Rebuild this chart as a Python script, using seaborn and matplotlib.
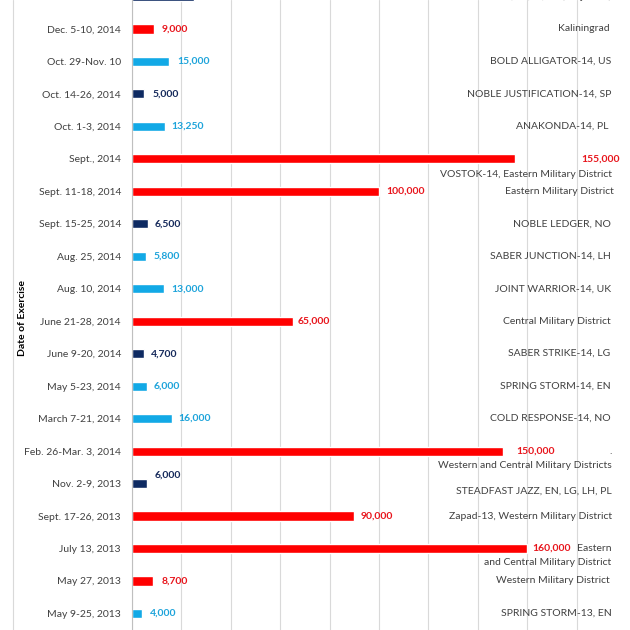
import matplotlib
matplotlib.use("Agg")
import matplotlib.pyplot as plt
import matplotlib.lines as mlines
import pandas as pd
import seaborn as sns

# ---------------- data ----------------
dates = ["Oct.-Nov., 2015", "Dec. 5-10, 2014", "Oct. 29-Nov. 10", "Oct. 14-26, 2014",
         "Oct. 1-3, 2014", "Sept., 2014", "Sept. 11-18, 2014", "Sept. 15-25, 2014",
         "Aug. 25, 2014", "Aug. 10, 2014", "June 21-28, 2014", "June 9-20, 2014",
         "May 5-23, 2014", "March 7-21, 2014", "Feb. 26-Mar. 3, 2014", "Nov. 2-9, 2013",
         "Sept. 17-26, 2013", "July 13, 2013", "May 27, 2013", "May 9-25, 2013"]
troops = [25000, 9000, 15000, 5000, 13250, 155000, 100000, 6500, 5800, 13000,
          65000, 4700, 6000, 16000, 150000, 6000, 90000, 160000, 8700, 4000]
groups = ["NATO", "Russia", "Allied", "NATO", "Allied", "Russia", "Russia", "NATO",
          "Allied", "Allied", "Russia", "NATO", "Allied", "Allied", "Russia", "NATO",
          "Russia", "Russia", "Russia", "Allied"]
exercises = ["TRIDENT JUNCTURE-15, SP, IT, PT (Projected)", "Kaliningrad",
             "BOLD ALLIGATOR-14, US", "NOBLE JUSTIFICATION-14, SP", "ANAKONDA-14, PL",
             "VOSTOK-14, Eastern Military District", "Eastern Military District",
             "NOBLE LEDGER, NO", "SABER JUNCTION-14, LH", "JOINT WARRIOR-14, UK",
             "Central Military District", "SABER STRIKE-14, LG", "SPRING STORM-14, EN",
             "COLD RESPONSE-14, NO", ".\nWestern and Central Military Districts",
             "STEADFAST JAZZ, EN, LG, LH, PL", "Zapad-13, Western Military District",
             "Eastern\nand Central Military District", "Western Military District",
             "SPRING STORM-13, EN"]

# ---------------- styles ----------------
palette = {"Russia": "#FF0000", "Allied": "#12A9E6", "NATO": "#0E2A62"}
text_col = {"Russia": "#E8141B", "Allied": "#1CA3DA", "NATO": "#14285A"}
# per-row placement tweaks (pixels, positive = downward)
exer_dy = [0, 0, 0, 0, 0, 16, 0, 0, 0, 0, 0, 0, 0, 0, 0, 8, 0, 0, 0, 0]
exer_x = [611, 610, 611, 611, 609, 612, 614, 611, 611, 611, 611, 610, 611, 611,
          612, 612, 612, 611, 610, 612]
line_gap = 14
val_dx = [6, 7, 8, 8, 7, None, 7, 7, 7, 7, 5, 7, 7, 7, 14, 8, 6, 5, 8, 8]
val_dy = [0, 0, 0, 0, 0, 0, 0, 0, 0, 0, 0, 0, 0, 0, 0, -8, 0, 0, 0, 0]

df = pd.DataFrame({"date": dates, "troops": troops, "group": groups})

sns.set_style("white")
plt.rcParams["font.family"] = ["Lato", "DejaVu Sans"]

W = H = 630
fig = plt.figure(figsize=(6.3, 6.3), dpi=100)
x0_px, x1_px = 132, 626
ax = fig.add_axes([x0_px / W, 0, (x1_px - x0_px) / W, 1])

sns.barplot(data=df, y="date", x="troops", hue="group", order=dates,
            palette=palette, dodge=False, width=0.28, orient="h",
            legend=False, ax=ax, saturation=1)

row_px = 32.47
top_px = -3.5
ax.set_ylim((H - top_px) / row_px, (0 - top_px) / row_px)
ax.set_xlim(0, 200000)

ax.set_xticks(range(0, 180001, 20000))
ax.grid(axis="x", color="#D9D9D9", lw=0.8)
ax.set_axisbelow(True)
ax.tick_params(axis="x", length=0, labelbottom=False)
ax.tick_params(axis="y", length=0, pad=8, labelsize=7.5, labelcolor="#404040")
for s in ["top", "right", "bottom"]:
    ax.spines[s].set_visible(False)
ax.spines["left"].set_color("#BFBFBF")
ax.spines["left"].set_linewidth(0.8)
ax.set_xlabel("")
ax.set_ylabel("")

# value labels
for i, (v, g) in enumerate(zip(troops, groups)):
    if val_dx[i] is None:
        ax.annotate(f"{v:,}", xy=(581 / W, i), xycoords=("figure fraction", "data"),
                    ha="left", va="center", fontsize=7.5, fontweight="bold",
                    color=text_col[g])
    else:
        ax.annotate(f"{v:,}", xy=(v, i), xytext=(val_dx[i], -val_dy[i]),
                    textcoords="offset pixels", ha="left", va="center",
                    fontsize=7.5, fontweight="bold", color=text_col[g])

# exercise names on right (multi-line names drawn line by line)
for i, name in enumerate(exercises):
    for k, line in enumerate(name.split("\n")):
        ax.annotate(line, xy=(exer_x[i] / W, i), xycoords=("figure fraction", "data"),
                    xytext=(0, -(exer_dy[i] + k * line_gap)), textcoords="offset pixels",
                    ha="right", va="center", fontsize=7.5,
                    color="#404040", annotation_clip=False)

fig.text(22.5 / W, 1 - 318 / H, "Date of Exercise", rotation=90, ha="center",
         va="center", fontsize=7.5, fontweight="bold", color="black")

fig.add_artist(mlines.Line2D([12.5 / W, 12.5 / W], [0, 1], transform=fig.transFigure,
                             color="#D9D9D9", lw=0.8))

fig.savefig("out.png", dpi=100)
